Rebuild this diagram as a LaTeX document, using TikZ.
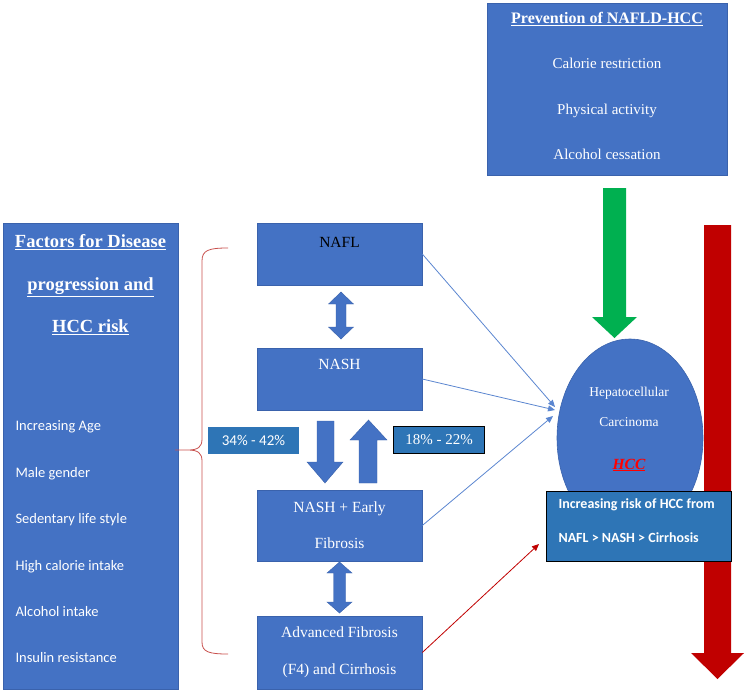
\documentclass[tikz,border=0pt]{standalone}
\usepackage{fontspec}
\setmainfont{Liberation Serif}
\newfontfamily\calibri{Carlito}
\usetikzlibrary{arrows.meta,shapes.geometric}

\definecolor{boxblue}{HTML}{4472C4}
\definecolor{boxedge}{HTML}{3A62AC}
\definecolor{darkblue}{HTML}{2E75B6}
\definecolor{arrowgreen}{HTML}{00B050}
\definecolor{darkred}{HTML}{C00000}
\definecolor{bracered}{HTML}{C8504D}
\definecolor{linkblue}{HTML}{5B86D0}

\tikzset{
  box/.style={draw=boxedge, fill=boxblue, line width=0.6pt, minimum width=165pt, inner sep=0pt},
  boxtxt/.style={text=white, align=center, font=\fontsize{15.5}{36}\selectfont},
  pctbox/.style={fill=darkblue, minimum width=91pt, minimum height=27pt, inner sep=0pt, text=white},
  blockarrow/.style={fill=boxblue, draw=boxedge, line width=0.4pt},
  link/.style={draw=linkblue, line width=0.8pt, -{Triangle[length=7pt,width=6pt]}},
}

\begin{document}
\begin{tikzpicture}[x=1pt,y=-1pt]
    \useasboundingbox (0,0) rectangle (750,694);

    % risk factors
    \node[box, minimum width=175pt, minimum height=466pt] (factors) at (90.5,456) {};
    \node[boxtxt, font=\bfseries\fontsize{18.5}{42.5}\selectfont] (factors-t) at (90.5,285)
        {\underline{Factors for Disease}\\\underline{progression and}\\\underline{HCC risk}};
    \node[text=white, align=left, anchor=west, font=\calibri\fontsize{14.5}{46.4}\selectfont] (factors-l) at (12,542)
        {Increasing Age\\Male gender\\Sedentary life style\\High calorie intake\\Alcohol intake\\Insulin resistance};

    \draw[bracered, line width=0.8pt] (228,248) .. controls (209,248) and (202,250) .. (202,261) -- (202,439)
        .. controls (202,447) and (198,450) .. (188,450) -- (175,450) -- (188,450)
        .. controls (198,450) and (202,453) .. (202,461) -- (202,642)
        .. controls (202,652) and (209,654) .. (228,654);

    % stages
    \node[box, minimum height=62pt] (nafl) at (339.5,254) {};
    \node[boxtxt, text=black] (nafl-t) at (339.5,242) {NAFL};
    \node[box, minimum height=62pt] (nash) at (339.5,379) {};
    \node[boxtxt] (nash-t) at (339.5,364) {NASH};
    \node[box, boxtxt, minimum height=71pt] (early) at (339.5,525.5) {NASH + Early\\Fibrosis};
    \node[box, boxtxt, font=\fontsize{15.5}{37}\selectfont, minimum height=73pt] (adv) at (339.5,652.5)
        {Advanced Fibrosis\\(F4) and Cirrhosis};

    \fill[blockarrow] (341,292) -- (353.5,304) -- (346,304) -- (346,327) -- (353.5,327) -- (341,339)
        -- (328.5,327) -- (336,327) -- (336,304) -- (328.5,304) -- cycle;
    \fill[blockarrow] (339.5,562) -- (352,573) -- (345.5,573) -- (345.5,602) -- (352,602) -- (339.5,613)
        -- (327,602) -- (333.5,602) -- (333.5,573) -- (327,573) -- cycle;
    \fill[blockarrow] (317,421) -- (334,421) -- (334,462) -- (343,462) -- (325,483) -- (307,462) -- (317,462) -- cycle;
    \fill[blockarrow] (368.5,420) -- (387,440) -- (377,440) -- (377,483) -- (359,483) -- (359,440) -- (350,440) -- cycle;

    \node[pctbox, font=\calibri\fontsize{15}{18}\selectfont] (prog) at (253.5,440.5) {34\% - 42\%};
    \node[pctbox, draw=black, line width=0.8pt, font=\fontsize{15}{18}\selectfont] (regr) at (439,440) {18\% - 22\%};

    % prevention
    \node[box, minimum width=240pt, minimum height=172pt] (prev) at (607,89) {};
    \node[boxtxt, font=\fontsize{15}{45.3}\selectfont] (prev-t) at (607,86)
        {{\bfseries\fontsize{16}{45.3}\selectfont\underline{Prevention of NAFLD-HCC}}\\Calorie restriction\\Physical activity\\Alcohol cessation};

    \fill[arrowgreen] (603,188) -- (626,188) -- (626,317) -- (637,317) -- (614.5,338) -- (592,317) -- (603,317) -- cycle;
    \fill[darkred] (704,225) -- (731,225) -- (731,653) -- (744,653) -- (717.5,679) -- (691,653) -- (704,653) -- cycle;

    % HCC
    \node[ellipse, fill=boxblue, draw=boxedge, line width=0.6pt, minimum width=146pt, minimum height=198pt, inner sep=0pt] (hcc) at (630,438) {};
    \node[text=white, align=center, font=\fontsize{13.5}{30}\selectfont] (hcc-t) at (629,429)
        {Hepatocellular\\Carcinoma\\[13pt]{\color{red}\bfseries\itshape\fontsize{15.5}{18}\selectfont\underline{HCC}}};

    \coordinate (hcc-a) at (555,407);
    \coordinate (hcc-b) at (555,410);
    \coordinate (hcc-c) at (553,416);
    \coordinate (risk-a) at (539,544);
    \draw[link] (nafl.east) -- (hcc-a);
    \draw[link] (nash.east) -- (hcc-b);
    \draw[link] (early.east) -- (hcc-c);
    \draw[link, draw=darkred] (adv.east) -- (risk-a);

    \node[fill=darkblue, draw=black, line width=0.8pt, minimum width=185pt, minimum height=70pt] (risk) at (638.5,526) {};
    \node[text=white, align=left, anchor=west, font=\calibri\bfseries\fontsize{14}{34}\selectfont] (risk-t) at (555,521)
        {Increasing risk of HCC from\\NAFL > NASH > Cirrhosis};
\end{tikzpicture}
\end{document}
